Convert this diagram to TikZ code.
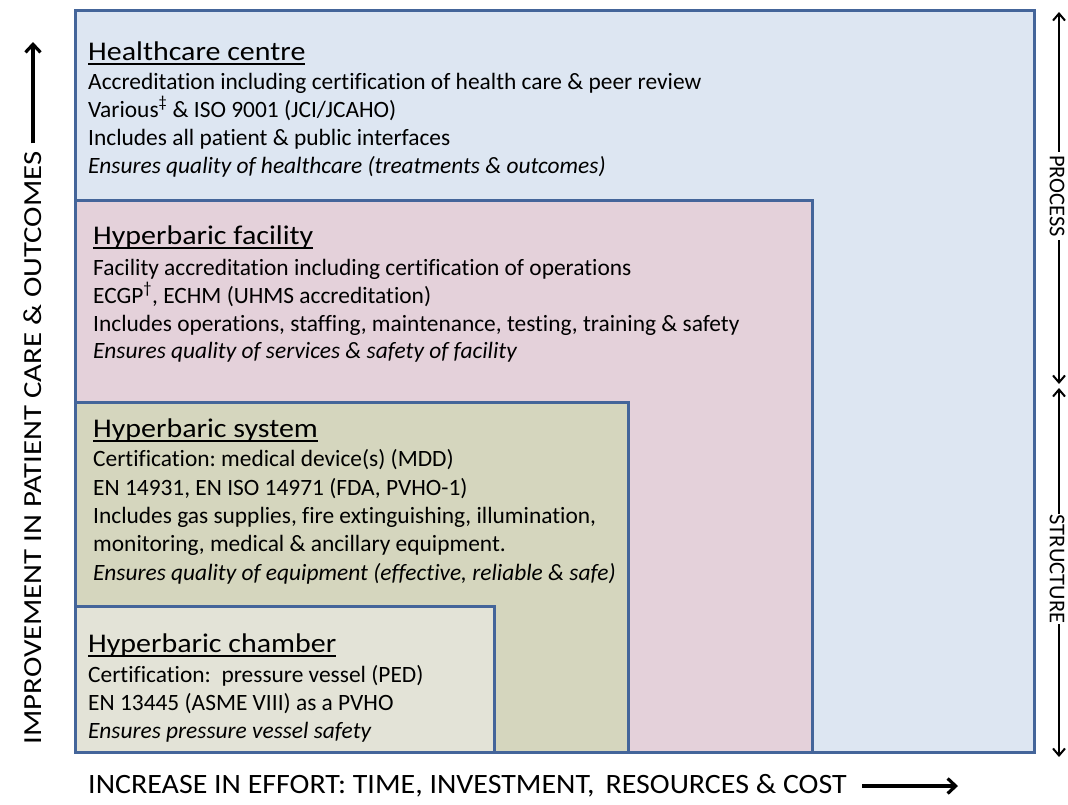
\documentclass[tikz,border=0pt]{standalone}
\usepackage{fontspec}
\setmainfont{Carlito}[Ligatures=NoCommon]
\usetikzlibrary{arrows.meta}
\definecolor{bord}{HTML}{44659A}
\definecolor{hcfill}{HTML}{DDE6F2}
\definecolor{hffill}{HTML}{E4D1DA}
\definecolor{hsfill}{HTML}{D5D6BE}
\definecolor{hchfill}{HTML}{E3E3D7}
\newcommand\boxttl[1]{\scalebox{1.11}[1]{\setbox0\hbox{#1}\rlap{\rule[-5pt]{\wd0}{2pt}}\box0}}
\tikzset{
  layer/.style={draw=bord, line width=3pt},
  ttl/.style={anchor=base west, inner sep=0pt, font=\fontsize{27}{30}\selectfont},
  bodyl/.style={anchor=base west, inner sep=0pt, font=\fontsize{23.4}{28}\selectfont},
  itl/.style={bodyl, font=\fontsize{23.4}{28}\selectfont\itshape},
  sidelbl/.style={inner sep=3pt, font=\fontsize{22.5}{25}\selectfont},
  sidearrow/.style={line width=2pt, -{Straight Barb[length=7pt,width=12pt,line width=2pt]}},
  bigarrow/.style={line width=3.4pt, -{Straight Barb[length=8pt,width=15pt,line width=3.2pt]}}
}
\begin{document}
\begin{tikzpicture}[x=1pt,y=-1pt]
\useasboundingbox (0,0) rectangle (1068,804);
% boxes
\draw[layer, fill=hcfill] (75,10) rectangle (1034,752);
\draw[layer, fill=hffill] (75,200) rectangle (812,752);
\draw[layer, fill=hsfill] (75,402) rectangle (628,752);
\draw[layer, fill=hchfill] (75,606) rectangle (494,752);
% healthcare centre
\node[ttl] (hc0) at (88,60) {\boxttl{Healthcare centre}};
\node[bodyl] (hc1) at (88,89) {Accreditation including certification of health care \& peer review};
\node[bodyl] (hc2) at (88,117) {Various\textsuperscript{‡} \& ISO 9001 (JCI/JCAHO)};
\node[bodyl] (hc3) at (88,145) {Includes all patient \& public interfaces};
\node[itl] (hc4) at (88,173) {Ensures quality of healthcare (treatments \& outcomes)};
% hyperbaric facility
\node[ttl] (hf0) at (93,244) {\boxttl{Hyperbaric facility}};
\node[bodyl] (hf1) at (93,275) {Facility accreditation including certification of operations};
\node[bodyl] (hf2) at (93,303) {ECGP\textsuperscript{†}, ECHM (UHMS accreditation)};
\node[bodyl] (hf3) at (93,331) {Includes operations, staffing, maintenance, testing, training \& safety};
\node[itl] (hf4) at (93,358) {Ensures quality of services \& safety of facility};
% hyperbaric system
\node[ttl] (hs0) at (93,437) {\boxttl{Hyperbaric system}};
\node[bodyl] (hs1) at (93,466) {Certification:\ medical device(s) (MDD)};
\node[bodyl] (hs2) at (93,495) {EN 14931, EN ISO 14971 (FDA, PVHO-1)};
\node[bodyl] (hs3) at (93,523) {Includes gas supplies, fire extinguishing, illumination,};
\node[bodyl] (hs4) at (93,551) {monitoring, medical \& ancillary equipment.};
\node[itl] (hs5) at (93,580) {Ensures quality of equipment (effective, reliable \& safe)};
% hyperbaric chamber
\node[ttl] (ch0) at (88,652) {\boxttl{Hyperbaric chamber}};
\node[bodyl] (ch1) at (88,682) {Certification:\ \ pressure vessel (PED)};
\node[bodyl] (ch2) at (88,710) {EN 13445 (ASME VIII) as a PVHO};
\node[itl] (ch3) at (88,738) {Ensures pressure vessel safety};
% left axis
\node[rotate=90, inner sep=0pt, font=\fontsize{26}{28}\selectfont] (yl) at (33,448)
  {\scalebox{1.185}[1]{IMPROVEMENT IN PATIENT CARE \& OUTCOMES}};
\coordinate (ytip) at (33,42);
\draw[bigarrow, shorten <=8pt] (yl.east) -- (ytip);
% bottom axis
\node[anchor=base west, inner sep=0pt, font=\fontsize{28}{30}\selectfont] (xl) at (88,793)
  {\scalebox{1.07}[1]{INCREASE IN EFFORT: TIME, INVESTMENT,\hspace{4pt} RESOURCES \& COST}};
\coordinate (xs) at (862,786);
\coordinate (xtip) at (958,786);
\draw[bigarrow] (xs) -- (xtip);
% right side
\node[sidelbl, rotate=-90] (proc) at (1057,196) {PROCESS};
\node[sidelbl, rotate=-90, inner sep=1pt] (struc) at (1057,569) {STRUCTURE};
\coordinate (ptop) at (1059,12);
\coordinate (pbot) at (1059,384);
\coordinate (stop) at (1059,388);
\coordinate (sbot) at (1059,757);
\draw[sidearrow] (proc.west -| ptop) -- (ptop);
\draw[sidearrow] (proc.east -| pbot) -- (pbot);
\draw[sidearrow] (struc.west -| stop) -- (stop);
\draw[sidearrow] (struc.east -| sbot) -- (sbot);
\end{tikzpicture}
\end{document}
